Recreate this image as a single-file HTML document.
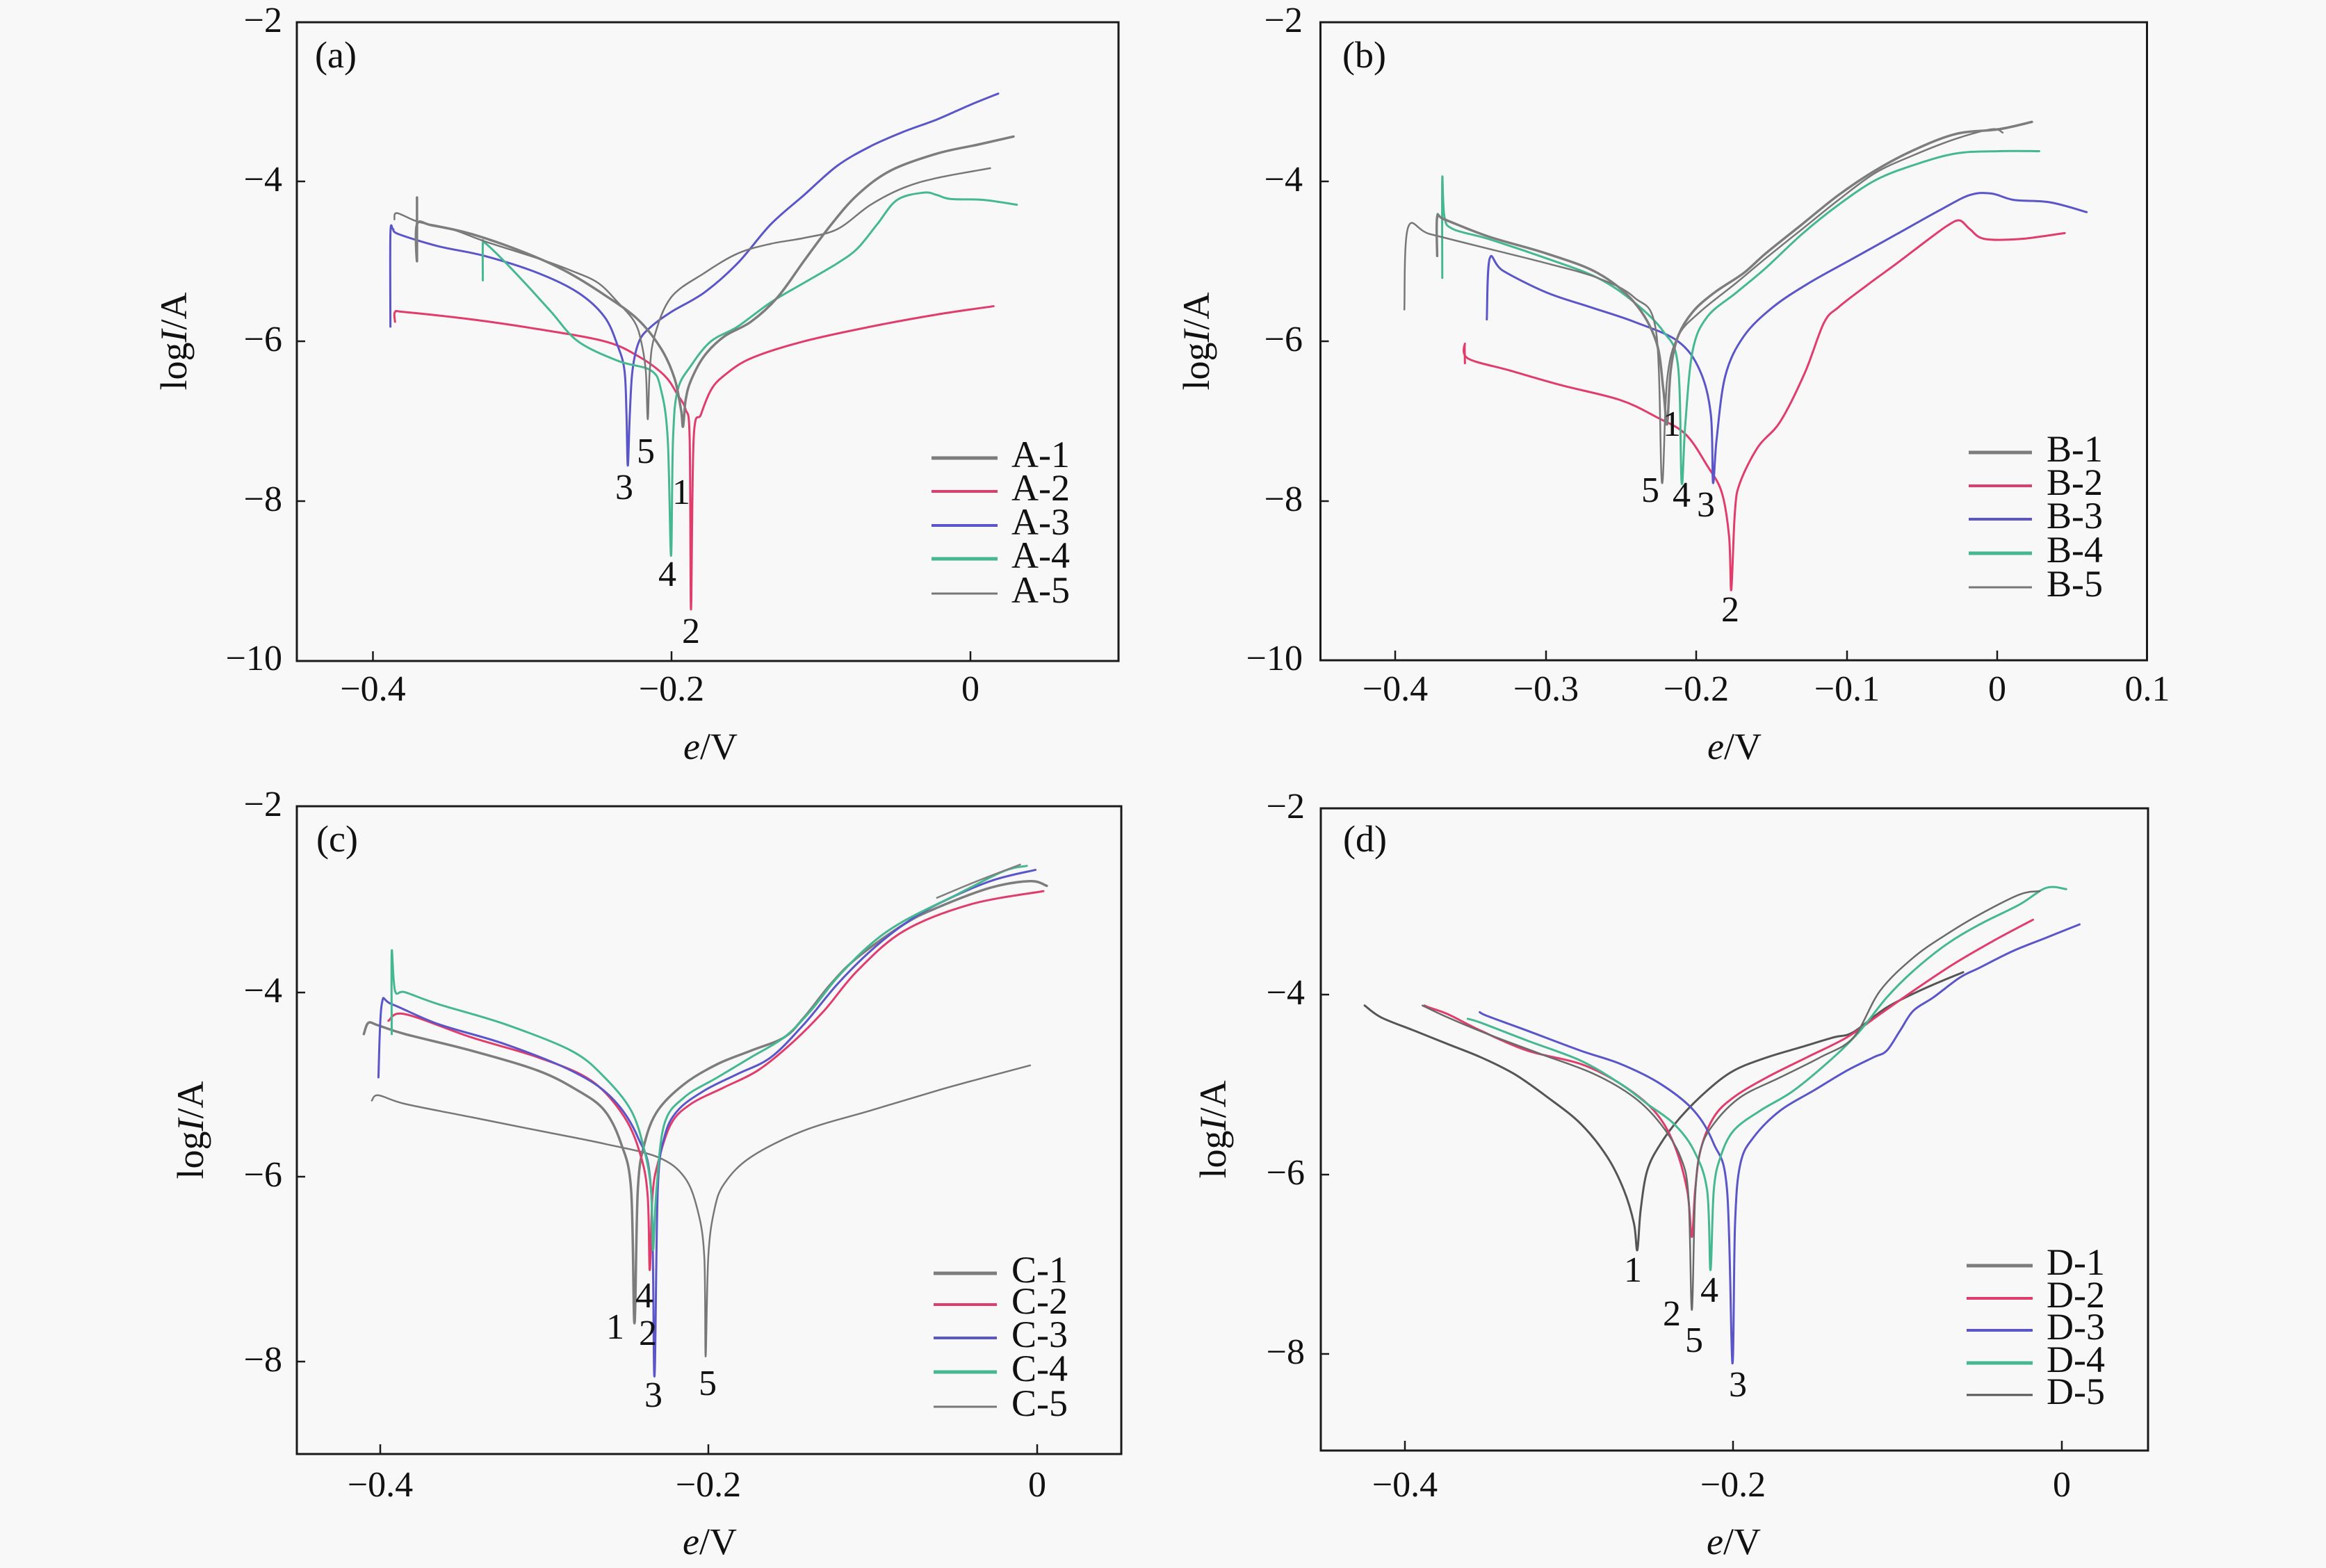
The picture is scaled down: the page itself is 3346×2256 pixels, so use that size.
<!DOCTYPE html>
<html><head><meta charset="utf-8"><style>
html,body{margin:0;padding:0;background:#f8f8f8;}
svg{display:block;}
text{font-family:"Liberation Serif",serif;fill:#111;}
.t{font-size:52px;}
.lg{font-size:54px;}
.ax{font-size:54px;}
polyline,path{fill:none;stroke-linejoin:round;stroke-linecap:round;}
.c polyline,.c path{vector-effect:non-scaling-stroke;}
</style></head><body>
<svg width="3346" height="2256" viewBox="0 0 3346 2256" xmlns="http://www.w3.org/2000/svg">
<rect x="0" y="0" width="3346" height="2256" fill="#f8f8f8"/>

<!-- ================= PANEL A ================= -->
<g class="c" transform="translate(200,0) scale(0.956633,0.701531)">
<polyline stroke="#e03c6c" stroke-width="3" points="385,660 385,640 400,640 500,655 600,675 700,700 750,730 790,770 810,810 822,840 828,900 830,1250 834,900 845,850 860,800 880,770 920,735 1000,700 1100,670 1200,645 1285,628"/>
<polyline stroke="#5a55c8" stroke-width="3" points="378,670 378,480 382,470 390,480 450,505 520,525 600,560 660,600 700,650 720,710 730,760 733,850 735,955 738,850 742,760 752,700 770,670 800,640 850,600 900,540 950,460 1000,400 1050,340 1100,300 1150,270 1200,245 1250,215 1292,192"/>
<polyline stroke="#45b892" stroke-width="3" points="517,575 517,500 520,498 545,530 580,580 620,640 660,700 720,740 770,760 785,800 795,900 800,1140 803,900 810,800 830,750 860,700 900,670 950,620 1000,580 1050,540 1080,510 1110,460 1140,410 1180,395 1200,400 1220,408 1270,410 1320,420"/>
<polyline stroke="#777" stroke-width="2.5" points="384,450 388,437 420,455 470,470 520,495 600,530 650,555 690,580 720,620 745,660 755,700 762,760 765,860 768,760 775,690 800,610 850,560 900,520 950,500 1000,488 1050,470 1100,420 1150,385 1200,365 1280,345"/>
<polyline stroke="#7d7d7d" stroke-width="3.5" points="418,405 418,535 418,460 440,462 500,480 580,518 640,555 700,605 750,655 785,715 805,775 815,840 818,875 822,820 830,780 850,730 880,690 920,660 960,610 1000,535 1040,462 1080,400 1130,350 1200,315 1260,297 1315,280"/>
</g>
<rect x="427" y="32" width="1182" height="919" fill="none" stroke="#1a1a1a" stroke-width="3"/>
<g stroke="#1a1a1a" stroke-width="2.5">
<line x1="536.5" y1="951" x2="536.5" y2="937"/><line x1="966" y1="951" x2="966" y2="937"/><line x1="1396" y1="951" x2="1396" y2="937"/>
<line x1="427" y1="261" x2="439" y2="261"/><line x1="427" y1="491" x2="439" y2="491"/><line x1="427" y1="721" x2="439" y2="721"/>
</g>
<g class="t" text-anchor="end">
<text x="406" y="46">−2</text><text x="406" y="275">−4</text><text x="406" y="505">−6</text><text x="406" y="735">−8</text><text x="406" y="964">−10</text>
</g>
<g class="t" text-anchor="middle">
<text x="536.5" y="1008">−0.4</text><text x="966" y="1008">−0.2</text><text x="1396" y="1008">0</text>
</g>
<text class="ax" x="453" y="97">(a)</text>
<text class="ax" text-anchor="middle" transform="translate(268,491) rotate(-90)">log<tspan font-style="italic">I</tspan>/A</text>
<text class="ax" text-anchor="middle" x="1022" y="1092"><tspan font-style="italic">e</tspan>/V</text>
<g class="t" text-anchor="middle">
<text x="929" y="666">5</text><text x="898" y="718">3</text><text x="980" y="725">1</text><text x="960" y="843">4</text><text x="994" y="925">2</text>
</g>
<g stroke-width="4">
<line x1="1340" y1="659" x2="1435" y2="659" stroke="#7d7d7d" stroke-width="5"/>
<line x1="1340" y1="707" x2="1435" y2="707" stroke="#e03c6c"/>
<line x1="1340" y1="756" x2="1435" y2="756" stroke="#5a55c8"/>
<line x1="1340" y1="804" x2="1435" y2="804" stroke="#45b892" stroke-width="5"/>
<line x1="1340" y1="854" x2="1435" y2="854" stroke="#777" stroke-width="3"/>
</g>
<g class="lg">
<text x="1455" y="672">A-1</text><text x="1455" y="720">A-2</text><text x="1455" y="769">A-3</text><text x="1455" y="817">A-4</text><text x="1455" y="867">A-5</text>
</g>

<!-- ================= PANEL B ================= -->
<g class="c" transform="translate(1700,0) scale(1.049745,0.701531)">
<polyline stroke="#e03c6c" stroke-width="3" points="388,745 388,705 392,735 450,760 520,790 600,820 650,855 690,890 720,955 740,1010 750,1100 753,1210 758,1050 765,990 790,916 820,865 854,764 880,662 900,630 939,585 980,540 1024,490 1050,462 1066,452 1080,470 1100,490 1150,490 1210,478"/>
<polyline stroke="#5a55c8" stroke-width="3" points="418,655 422,530 440,555 500,600 560,630 620,660 680,700 710,760 725,850 728,990 733,900 745,770 770,690 810,630 860,580 920,530 980,480 1040,430 1080,400 1110,397 1140,410 1190,415 1240,435"/>
<polyline stroke="#45b892" stroke-width="3" points="357,570 357,365 360,445 372,470 420,490 500,530 570,570 620,620 660,680 680,750 685,990 690,870 700,720 720,650 760,600 800,550 850,480 900,420 950,370 1000,340 1060,315 1120,310 1175,310"/>
<polyline stroke="#777" stroke-width="2.5" points="305,635 310,467 340,480 420,510 500,540 570,570 620,610 650,680 658,990 665,780 680,690 710,640 760,580 800,530 850,470 900,410 950,355 1000,320 1060,285 1110,265 1125,272"/>
<polyline stroke="#7d7d7d" stroke-width="3.5" points="350,525 350,445 360,450 420,485 500,520 570,560 620,620 650,700 660,800 665,870 670,760 680,690 700,640 730,600 770,560 800,520 850,460 900,400 950,350 1000,310 1060,275 1120,265 1165,250"/>
</g>
<rect x="1899.5" y="32" width="1189" height="918" fill="none" stroke="#1a1a1a" stroke-width="3"/>
<g stroke="#1a1a1a" stroke-width="2.5">
<line x1="2007" y1="950" x2="2007" y2="936"/><line x1="2224" y1="950" x2="2224" y2="936"/><line x1="2440" y1="950" x2="2440" y2="936"/><line x1="2657" y1="950" x2="2657" y2="936"/><line x1="2873" y1="950" x2="2873" y2="936"/>
<line x1="1899.5" y1="261" x2="1911.5" y2="261"/><line x1="1899.5" y1="491" x2="1911.5" y2="491"/><line x1="1899.5" y1="721" x2="1911.5" y2="721"/>
</g>
<g class="t" text-anchor="end">
<text x="1874" y="46">−2</text><text x="1874" y="275">−4</text><text x="1874" y="505">−6</text><text x="1874" y="735">−8</text><text x="1874" y="964">−10</text>
</g>
<g class="t" text-anchor="middle">
<text x="2007" y="1008">−0.4</text><text x="2224" y="1008">−0.3</text><text x="2440" y="1008">−0.2</text><text x="2657" y="1008">−0.1</text><text x="2873" y="1008">0</text><text x="3089" y="1008">0.1</text>
</g>
<text class="ax" x="1931" y="97">(b)</text>
<text class="ax" text-anchor="middle" transform="translate(1739,491) rotate(-90)">log<tspan font-style="italic">I</tspan>/A</text>
<text class="ax" text-anchor="middle" x="2495" y="1092"><tspan font-style="italic">e</tspan>/V</text>
<g class="t" text-anchor="middle">
<text x="2405" y="627">1</text><text x="2374" y="722">5</text><text x="2419" y="729">4</text><text x="2454" y="743">3</text><text x="2489" y="894">2</text>
</g>
<g stroke-width="4">
<line x1="2832" y1="651" x2="2923" y2="651" stroke="#7d7d7d" stroke-width="5"/>
<line x1="2832" y1="699" x2="2923" y2="699" stroke="#e03c6c"/>
<line x1="2832" y1="747" x2="2923" y2="747" stroke="#5a55c8"/>
<line x1="2832" y1="796" x2="2923" y2="796" stroke="#45b892" stroke-width="5"/>
<line x1="2832" y1="845" x2="2923" y2="845" stroke="#777" stroke-width="3"/>
</g>
<g class="lg">
<text x="2944" y="664">B-1</text><text x="2944" y="712">B-2</text><text x="2944" y="760">B-3</text><text x="2944" y="809">B-4</text><text x="2944" y="858">B-5</text>
</g>

<!-- ================= PANEL C ================= -->
<g class="c" transform="translate(200,756) scale(0.956633)">
<polyline stroke="#777" stroke-width="2.5" points="350,865 360,857 400,870 500,890 600,910 700,930 780,950 820,980 840,1030 850,1100 852,1250 856,1100 865,1030 880,990 920,950 1000,910 1100,880 1200,850 1280,828 1340,812"/>
<polyline stroke="#7d7d7d" stroke-width="3.5" points="338,765 345,748 360,752 400,765 500,790 600,820 660,850 700,880 725,930 740,1000 745,1200 750,1000 760,930 780,880 820,840 870,810 920,790 970,770 1000,740 1040,690 1080,650 1150,600 1200,575 1280,545 1340,535 1365,542"/>
<polyline stroke="#e03c6c" stroke-width="3" points="375,745 400,735 500,770 600,800 680,835 730,890 755,950 765,1010 768,1120 772,1010 780,960 800,900 830,870 880,845 930,820 980,780 1030,730 1080,670 1150,610 1250,570 1360,550"/>
<polyline stroke="#5a55c8" stroke-width="3" points="360,830 365,720 380,720 450,750 550,780 650,820 710,860 750,920 770,1000 775,1280 780,1000 790,920 810,880 850,850 900,825 950,800 1000,750 1050,690 1100,640 1150,600 1200,570 1280,535 1348,518"/>
<polyline stroke="#45b892" stroke-width="3" points="380,765 380,640 385,700 400,702 450,720 550,750 650,790 700,830 740,880 760,940 770,1000 773,1090 778,1000 790,900 820,860 870,830 920,800 970,770 1010,730 1050,680 1100,630 1150,595 1230,555 1300,520 1335,512"/>
<polyline stroke="#808080" stroke-width="2.5" points="1200,560 1260,535 1325,510"/>
</g>
<rect x="427" y="1160" width="1186" height="932" fill="none" stroke="#1a1a1a" stroke-width="3"/>
<g stroke="#1a1a1a" stroke-width="2.5">
<line x1="547" y1="2092" x2="547" y2="2078"/><line x1="1019" y1="2092" x2="1019" y2="2078"/><line x1="1492" y1="2092" x2="1492" y2="2078"/>
<line x1="427" y1="1428" x2="439" y2="1428"/><line x1="427" y1="1693" x2="439" y2="1693"/><line x1="427" y1="1959" x2="439" y2="1959"/>
</g>
<g class="t" text-anchor="end">
<text x="406" y="1174">−2</text><text x="406" y="1442">−4</text><text x="406" y="1707">−6</text><text x="406" y="1973">−8</text>
</g>
<g class="t" text-anchor="middle">
<text x="547" y="2153">−0.4</text><text x="1019" y="2153">−0.2</text><text x="1492" y="2153">0</text>
</g>
<text class="ax" x="455" y="1225">(c)</text>
<text class="ax" text-anchor="middle" transform="translate(292,1626) rotate(-90)">log<tspan font-style="italic">I</tspan>/A</text>
<text class="ax" text-anchor="middle" x="1021" y="2236"><tspan font-style="italic">e</tspan>/V</text>
<g class="t" text-anchor="middle">
<text x="927" y="1881">4</text><text x="885" y="1926">1</text><text x="932" y="1935">2</text><text x="940" y="2024">3</text><text x="1018" y="2007">5</text>
</g>
<g stroke-width="4">
<line x1="1343" y1="1832" x2="1434" y2="1832" stroke="#7d7d7d" stroke-width="5"/>
<line x1="1343" y1="1877" x2="1434" y2="1877" stroke="#e03c6c"/>
<line x1="1343" y1="1925" x2="1434" y2="1925" stroke="#5a55c8"/>
<line x1="1343" y1="1974" x2="1434" y2="1974" stroke="#45b892" stroke-width="5"/>
<line x1="1343" y1="2024" x2="1434" y2="2024" stroke="#777" stroke-width="3"/>
</g>
<g class="lg">
<text x="1455" y="1845">C-1</text><text x="1455" y="1890">C-2</text><text x="1455" y="1938">C-3</text><text x="1455" y="1987">C-4</text><text x="1455" y="2037">C-5</text>
</g>

<!-- ================= PANEL D ================= -->
<g class="c" transform="translate(1700,756) scale(0.956633)">
<polyline stroke="#555" stroke-width="3" points="275,722 300,740 350,760 400,780 450,800 500,825 550,860 600,900 640,950 665,1000 680,1050 685,1090 690,1030 700,970 720,930 750,890 790,850 830,820 880,800 930,785 980,770 1010,762 1060,725 1120,695 1175,672"/>
<polyline stroke="#e03c6c" stroke-width="3" points="365,722 372,725 400,735 450,760 520,790 600,810 660,840 710,880 740,930 760,1000 767,1070 772,1000 780,940 800,890 830,860 880,830 940,800 1000,770 1050,735 1100,700 1160,660 1220,625 1280,593"/>
<polyline stroke="#5a55c8" stroke-width="3" points="448,732 460,738 520,760 600,790 660,810 720,840 770,880 800,930 820,1000 828,1260 832,1050 840,960 860,920 900,880 950,850 1000,820 1040,800 1060,790 1080,760 1100,730 1130,710 1170,680 1200,665 1250,640 1300,620 1350,600"/>
<polyline stroke="#45b892" stroke-width="3" points="430,742 450,748 520,775 600,805 660,840 700,870 740,900 770,940 790,1000 795,1120 800,1000 810,950 830,910 870,880 920,850 980,800 1020,760 1060,710 1100,670 1150,630 1200,600 1260,570 1300,545 1330,547"/>
<polyline stroke="#6a6a6a" stroke-width="2.5" points="362,722 400,740 460,765 540,795 620,825 680,860 720,900 750,950 762,1010 767,1180 772,1010 780,940 800,900 840,860 900,830 960,800 1010,770 1050,700 1100,650 1150,615 1200,585 1260,555 1290,550"/>
</g>
<rect x="1900" y="1163" width="1190" height="924" fill="none" stroke="#1a1a1a" stroke-width="3"/>
<g stroke="#1a1a1a" stroke-width="2.5">
<line x1="2021" y1="2087" x2="2021" y2="2073"/><line x1="2493" y1="2087" x2="2493" y2="2073"/><line x1="2966" y1="2087" x2="2966" y2="2073"/>
<line x1="1900" y1="1431" x2="1912" y2="1431"/><line x1="1900" y1="1690" x2="1912" y2="1690"/><line x1="1900" y1="1948" x2="1912" y2="1948"/>
</g>
<g class="t" text-anchor="end">
<text x="1877" y="1177">−2</text><text x="1877" y="1445">−4</text><text x="1877" y="1704">−6</text><text x="1877" y="1962">−8</text>
</g>
<g class="t" text-anchor="middle">
<text x="2021" y="2153">−0.4</text><text x="2493" y="2153">−0.2</text><text x="2966" y="2153">0</text>
</g>
<text class="ax" x="1932" y="1225">(d)</text>
<text class="ax" text-anchor="middle" transform="translate(1763,1625) rotate(-90)">log<tspan font-style="italic">I</tspan>/A</text>
<text class="ax" text-anchor="middle" x="2494" y="2236"><tspan font-style="italic">e</tspan>/V</text>
<g class="t" text-anchor="middle">
<text x="2349" y="1844">1</text><text x="2459" y="1873">4</text><text x="2405" y="1907">2</text><text x="2437" y="1945">5</text><text x="2500" y="2009">3</text>
</g>
<g stroke-width="4">
<line x1="2829" y1="1821" x2="2924" y2="1821" stroke="#7d7d7d" stroke-width="5"/>
<line x1="2829" y1="1868" x2="2924" y2="1868" stroke="#e03c6c"/>
<line x1="2829" y1="1914" x2="2924" y2="1914" stroke="#5a55c8"/>
<line x1="2829" y1="1961" x2="2924" y2="1961" stroke="#45b892" stroke-width="5"/>
<line x1="2829" y1="2007" x2="2924" y2="2007" stroke="#555" stroke-width="3"/>
</g>
<g class="lg">
<text x="2944" y="1834">D-1</text><text x="2944" y="1881">D-2</text><text x="2944" y="1927">D-3</text><text x="2944" y="1974">D-4</text><text x="2944" y="2020">D-5</text>
</g>
</svg>
<script>
(function(){
  var pls = document.querySelectorAll('g.c polyline');
  for (var k = 0; k < pls.length; k++) {
    var pl = pls[k];
    var pts = pl.getAttribute('points').trim().split(/\s+/).map(function(s){var a=s.split(',');return [+a[0],+a[1]];});
    if (pts.length < 3) continue;
    var d = 'M' + pts[0][0] + ',' + pts[0][1];
    for (var i = 0; i < pts.length - 1; i++) {
      var p0 = pts[i > 0 ? i - 1 : i], p1 = pts[i], p2 = pts[i + 1], p3 = pts[i + 2 < pts.length ? i + 2 : i + 1];
      var c1x = p1[0] + (p2[0] - p0[0]) / 6, c1y = p1[1] + (p2[1] - p0[1]) / 6;
      var c2x = p2[0] - (p3[0] - p1[0]) / 6, c2y = p2[1] - (p3[1] - p1[1]) / 6;
      d += ' C' + c1x.toFixed(1) + ',' + c1y.toFixed(1) + ' ' + c2x.toFixed(1) + ',' + c2y.toFixed(1) + ' ' + p2[0] + ',' + p2[1];
    }
    var p = document.createElementNS('http://www.w3.org/2000/svg', 'path');
    p.setAttribute('d', d);
    p.setAttribute('stroke', pl.getAttribute('stroke'));
    p.setAttribute('stroke-width', pl.getAttribute('stroke-width'));
    p.setAttribute('vector-effect', 'non-scaling-stroke');
    pl.parentNode.replaceChild(p, pl);
  }
})();
</script>
</body></html>
